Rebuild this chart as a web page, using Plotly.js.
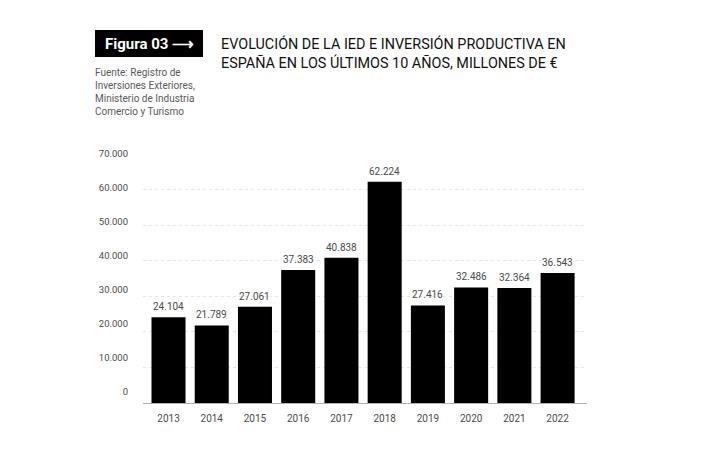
<!DOCTYPE html>
<html>
<head>
<meta charset="utf-8">
<script src="https://cdn.plot.ly/plotly-3.0.1.min.js"></script>
<style>html,body{margin:0;padding:0;background:#fff;}#chart{width:708px;height:455px;}</style>
</head>
<body>
<div id="chart"></div>
<script>
const years = ["2013","2014","2015","2016","2017","2018","2019","2020","2021","2022"];
const values = [24104, 21789, 27061, 37383, 40838, 62224, 27416, 32486, 32364, 36543];
const valueLabels = ["24.104","21.789","27.061","37.383","40.838","62.224","27.416","32.486","32.364","36.543"];
const yTickVals = [0, 10000, 20000, 30000, 40000, 50000, 60000, 70000];
const yTickText = ["0","10.000","20.000","30.000","40.000","50.000","60.000","70.000"];
const titleText = "EVOLUCIÓN DE LA IED E INVERSIÓN PRODUCTIVA EN<br>ESPAÑA EN LOS ÚLTIMOS 10 AÑOS, MILLONES DE €";
const sourceText = "Fuente: Registro de<br>Inversiones Exteriores,<br>Ministerio de Industria<br>Comercio y Turismo";
const figText = "Figura 03 ⟶";

const W = 708, H = 455, L = 143, R = 121, T = 153, B = 52;
const pw = W - L - R, ph = H - T - B;
const px = x => (x - L) / pw;
const py = y => (H - B - y) / ph;

const font = "Roboto, 'Noto Sans', sans-serif";

const trace = {
  type: "bar",
  x: years.map((_, i) => i),
  y: values,
  marker: {color: "#000000"},
  hoverinfo: "none",
  xaxis: "x", yaxis: "y"
};
const labelTrace = {
  type: "scatter", mode: "markers",
  x: [0], y: [0], marker: {opacity: 0}, hoverinfo: "none",
  xaxis: "x", yaxis: "y2", showlegend: false
};

const annotations = values.map((v, i) => ({
  x: i, y: v, xref: "x", yref: "y",
  text: valueLabels[i], showarrow: false,
  yanchor: "bottom", yshift: 3,
  font: {family: font, size: 10, color: "#4a4a4a"}
}));

annotations.push({
  xref: "paper", yref: "paper", x: px(219), y: py(53),
  xanchor: "left", yanchor: "middle", align: "left",
  text: titleText, showarrow: false,
  font: {family: font, size: 14.4, color: "#111"}
});
annotations.push({
  xref: "paper", yref: "paper", x: px(93), y: py(92),
  xanchor: "left", yanchor: "middle", align: "left",
  text: sourceText, showarrow: false,
  font: {family: font, size: 10, color: "#5a5a5a"}
});
annotations.push({
  xref: "paper", yref: "paper", x: px(149), y: py(43.5),
  xanchor: "center", yanchor: "middle",
  text: "<b>" + figText + "</b>", showarrow: false,
  font: {family: font, size: 15, color: "#fff"}
});

const layout = {
  width: W, height: H,
  margin: {l: L, r: R, t: T, b: B, pad: 0},
  paper_bgcolor: "#fff", plot_bgcolor: "#fff",
  showlegend: false,
  bargap: 0.213,
  xaxis: {
    range: [-0.59, 9.68],
    tickmode: "array", tickvals: years.map((_, i) => i), ticktext: years,
    showgrid: false, zeroline: false, showline: true, linecolor: "#b0b0b0", linewidth: 1,
    ticks: "", ticklabelstandoff: 6,
    tickfont: {family: font, size: 10, color: "#4a4a4a"},
    fixedrange: true
  },
  yaxis: {
    range: [0, 70281],
    tickmode: "array", tickvals: yTickVals,
    showticklabels: false,
    showgrid: true, gridcolor: "#e6e6e6", griddash: "dot", gridwidth: 1,
    zeroline: false, showline: false, ticks: "",
    fixedrange: true
  },
  yaxis2: {
    overlaying: "y", side: "left",
    range: [-3235, 70294],
    tickmode: "array", tickvals: yTickVals, ticktext: yTickText,
    showgrid: false, zeroline: false, showline: false, ticks: "",
    ticklabelstandoff: 14,
    tickfont: {family: font, size: 9.5, color: "#4a4a4a"},
    fixedrange: true
  },
  shapes: [{
    type: "rect", xref: "paper", yref: "paper",
    x0: px(95), x1: px(203), y0: py(57), y1: py(30),
    fillcolor: "#000", line: {width: 0}, layer: "below"
  }],
  annotations: annotations
};

Plotly.newPlot("chart", [trace, labelTrace], layout, {displayModeBar: false, staticPlot: true});
</script>
</body>
</html>
